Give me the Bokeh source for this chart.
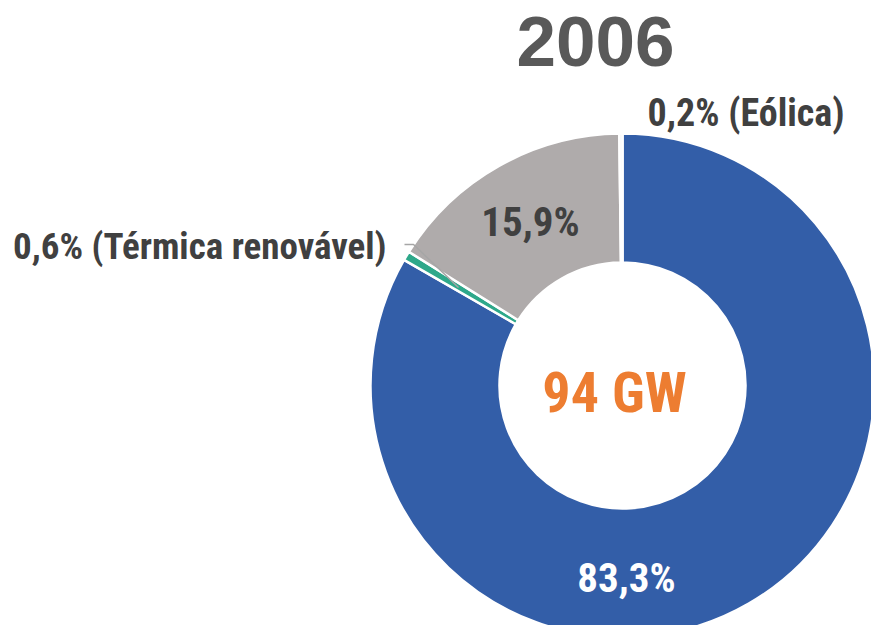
import math
from bokeh.plotting import figure
from bokeh.models import Range1d, ColumnDataSource
from bokeh.core.properties import value
from bokeh.embed import file_html
from bokeh.resources import INLINE

# ---- data ----
title = "2006"
total_label = "94 GW"
sources = ["Hidráulica", "Térmica renovável", "Térmica não renovável", "Eólica"]
shares = [83.3, 0.6, 15.9, 0.2]
colors = ["#335EA8", "#2EA88A", "#AFABAB", "#F2F2F2"]

W, H = 871, 625
SH = 633  # data y = SH - screen y

p = figure(width=W, height=H, output_backend="svg", toolbar_location=None,
           x_range=Range1d(0, W), y_range=Range1d(SH - H, SH),
           min_border=0)
p.axis.visible = False
p.grid.visible = False
p.outline_line_color = None
p.background_fill_color = "white"
p.border_fill_color = "white"

cx, cy = 622, SH - 385
r_out, r_in = 252, 123

starts, ends = [], []
cum = 0.0
for s in shares:
    starts.append(math.pi / 2 - 2 * math.pi * cum / 100)
    cum += s
    ends.append(math.pi / 2 - 2 * math.pi * cum / 100)

src = ColumnDataSource(dict(start=starts, end=ends, color=colors))
p.annular_wedge(x=cx, y=cy, inner_radius=r_in, outer_radius=r_out,
                start_angle="start", end_angle="end", direction="clock",
                fill_color="color", line_color="white", line_width=2.5, source=src)

def fmt(v):
    return f"{v:.1f}".replace(".", ",") + "%"

narrow = value("'Liberation Sans Narrow', 'Roboto Condensed', Roboto")
dark = "#404040"

# leader line for Térmica renovável
p.line(x=[404, 413, 458], y=[SH - 244, SH - 244, SH - 287], line_color="#A6A6A6", line_width=1.5)

p.text(x=[626], y=[SH - 577], text=[fmt(shares[0])], text_color="white",
       text_font=narrow, text_font_size="41px", text_font_style="bold",
       text_align="center", text_baseline="middle")
p.text(x=[530], y=[SH - 221], text=[fmt(shares[2])], text_color=dark,
       text_font=narrow, text_font_size="41px", text_font_style="bold",
       text_align="center", text_baseline="middle")
p.text(x=[386], y=[SH - 246], text=[f"{fmt(shares[1])} ({sources[1]})"], text_color=dark,
       text_font=narrow, text_font_size="37px", text_font_style="bold",
       text_align="right", text_baseline="middle")
p.text(x=[647], y=[SH - 112], text=[f"{fmt(shares[3])} ({sources[3]})"], text_color=dark,
       text_font=narrow, text_font_size="38px", text_font_style="bold",
       text_align="left", text_baseline="middle")
p.text(x=[614], y=[SH - 392], text=[total_label], text_color="#ED7D31",
       text_font=narrow, text_font_size="56px", text_font_style="bold",
       text_align="center", text_baseline="middle")
p.text(x=[595], y=[SH - 41], text=[title], text_color="#595959",
       text_font=value("'Liberation Sans', Arial"), text_font_size="71px", text_font_style="bold",
       text_align="center", text_baseline="middle")

open("out.html", "w").write(file_html(p, INLINE))
